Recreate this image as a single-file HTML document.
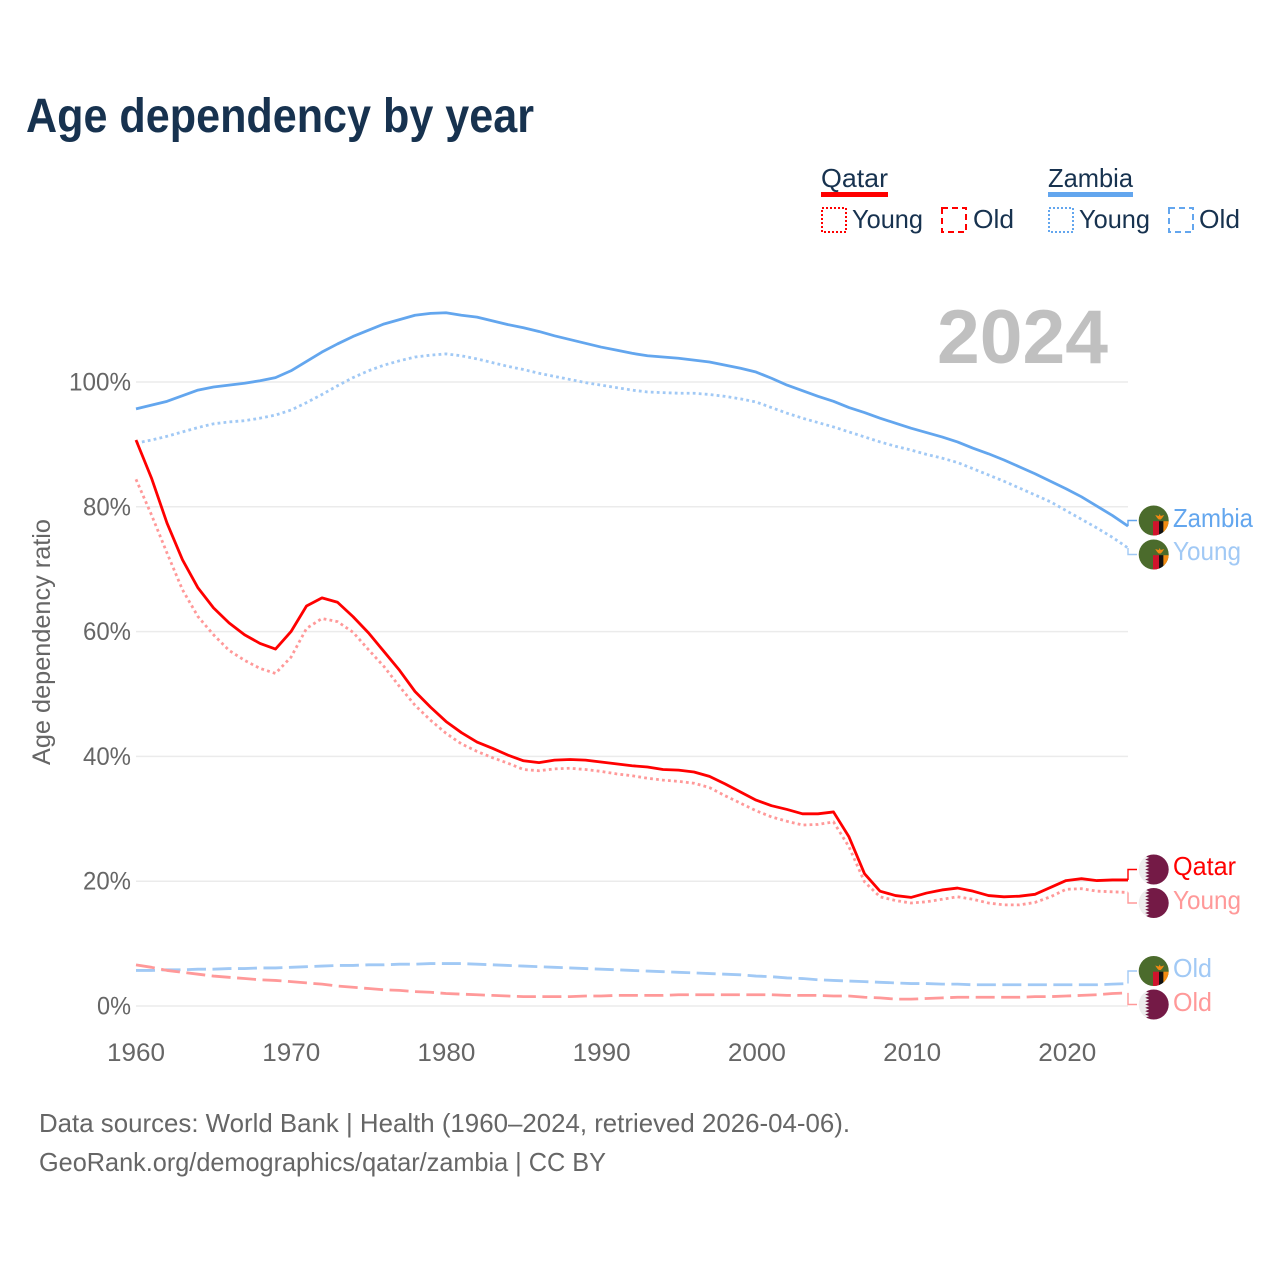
<!DOCTYPE html>
<html lang="en">
<head>
<meta charset="utf-8">
<title>Age dependency by year</title>
<style>
html,body{margin:0;padding:0;background:#fff;}
svg{display:block;font-family:"Liberation Sans",sans-serif;}
</style>
</head>
<body>
<svg id="chart" xmlns="http://www.w3.org/2000/svg" width="1280" height="1280" viewBox="0 0 1280 1280">
  <defs>
    <clipPath id="flag-clip"><circle cx="0" cy="0" r="15"/></clipPath>
    <g id="flag-zambia" clip-path="url(#flag-clip)">
      <rect x="-16" y="-16" width="32" height="32" fill="#4b6b2c"/>
      <rect x="-0.7" y="0.7" width="6" height="16" fill="#d0142c"/>
      <rect x="5.3" y="0.7" width="4.4" height="16" fill="#111"/>
      <rect x="9.7" y="0.7" width="6" height="16" fill="#f28a12"/>
      <polygon points="1.5,-5.5 5,-4.5 6,-6.5 7,-4.5 10.5,-5.5 8.5,-2.5 7,-1 5,-1 3.5,-2.5" fill="#f28a12"/>
    </g>
    <g id="flag-qatar" clip-path="url(#flag-clip)">
      <rect x="-16" y="-16" width="32" height="32" fill="#eeeeee"/>
      <polygon fill="#741a46" points="16,-16 -4.5,-16 -4.5,-15 -8.5,-13.33 -4.5,-11.67 -8.5,-10 -4.5,-8.33 -8.5,-6.67 -4.5,-5 -8.5,-3.33 -4.5,-1.67 -8.5,0 -4.5,1.67 -8.5,3.33 -4.5,5 -8.5,6.67 -4.5,8.33 -8.5,10 -4.5,11.67 -8.5,13.33 -4.5,15 -4.5,16 16,16"/>
    </g>
  </defs>

  <text x="26" y="132" font-size="48" font-weight="700" fill="#17324f" textLength="508" lengthAdjust="spacingAndGlyphs">Age dependency by year</text>

  <g font-size="26" fill="#17324f">
    <text x="821" y="187" textLength="67" lengthAdjust="spacingAndGlyphs">Qatar</text>
    <rect x="821" y="192" width="67" height="5" fill="#ff0000"/>
    <rect x="822" y="208" width="24" height="24" fill="none" stroke="#ff0000" stroke-width="2" stroke-dasharray="2 2"/>
    <text x="852" y="228" textLength="71" lengthAdjust="spacingAndGlyphs">Young</text>
    <rect x="942" y="208" width="24" height="24" fill="none" stroke="#ff0000" stroke-width="2" stroke-dasharray="6 4"/>
    <text x="973" y="228" textLength="41" lengthAdjust="spacingAndGlyphs">Old</text>

    <text x="1048" y="187" textLength="85" lengthAdjust="spacingAndGlyphs">Zambia</text>
    <rect x="1048" y="192" width="85" height="5" fill="#63a6ee"/>
    <rect x="1049" y="208" width="24" height="24" fill="none" stroke="#63a6ee" stroke-width="2" stroke-dasharray="2 2"/>
    <text x="1079" y="228" textLength="71" lengthAdjust="spacingAndGlyphs">Young</text>
    <rect x="1169" y="208" width="24" height="24" fill="none" stroke="#63a6ee" stroke-width="2" stroke-dasharray="6 4"/>
    <text x="1199" y="228" textLength="41" lengthAdjust="spacingAndGlyphs">Old</text>
  </g>

  <g id="grid"></g>
  <text x="937" y="363" font-size="76" font-weight="700" fill="#c0c0c0" textLength="171" lengthAdjust="spacingAndGlyphs">2024</text>
  <text transform="translate(50,765) rotate(-90)" font-size="25" fill="#666666" textLength="246" lengthAdjust="spacingAndGlyphs">Age dependency ratio</text>
  <g id="yticks"></g>
  <g id="xticks"></g>
  <g id="series"></g>
  <g id="endlabels"></g>

  <g font-size="26" fill="#666666">
    <text x="39" y="1132" textLength="811" lengthAdjust="spacingAndGlyphs">Data sources: World Bank | Health (1960–2024, retrieved 2026-04-06).</text>
    <text x="39" y="1171" textLength="567" lengthAdjust="spacingAndGlyphs">GeoRank.org/demographics/qatar/zambia | CC BY</text>
  </g>
</svg>

<script>
const startYear = 1960;
const xTickYears = [1960, 1970, 1980, 1990, 2000, 2010, 2020];
const yTickValues = [0, 20, 40, 60, 80, 100];
const yTickLabels = ["0%", "20%", "40%", "60%", "80%", "100%"];

const qatarTotal = [
  90.7,84.6,77.4,71.5,67.0,63.8,61.4,59.5,58.1,57.2,
  60.0,64.1,65.4,64.7,62.4,59.8,56.8,53.8,50.4,47.9,
  45.6,43.8,42.3,41.3,40.2,39.3,39.0,39.4,39.5,39.4,
  39.1,38.8,38.5,38.3,37.9,37.8,37.5,36.8,35.6,34.3,
  33.0,32.1,31.5,30.8,30.8,31.1,27.1,21.2,18.4,17.7,
  17.4,18.1,18.6,18.9,18.4,17.7,17.5,17.6,17.9,19.0,
  20.1,20.4,20.1,20.2,20.2
];
const qatarYoung = [
  84.4,78.7,72.6,66.7,62.4,59.5,57.0,55.4,54.1,53.3,
  55.9,60.5,62.1,61.6,59.9,57.1,54.4,51.2,48.2,45.8,
  43.7,42.0,40.8,39.8,38.9,37.9,37.7,38.0,38.1,37.9,
  37.6,37.2,36.9,36.5,36.2,36.0,35.7,35.0,33.7,32.5,
  31.3,30.3,29.6,29.0,29.1,29.5,25.5,19.9,17.5,16.9,
  16.5,16.7,17.1,17.5,17.1,16.5,16.2,16.2,16.6,17.5,
  18.7,18.8,18.4,18.3,18.2
];
const qatarOld = [
  6.6,6.2,5.7,5.4,5.1,4.8,4.6,4.4,4.2,4.1,
  3.9,3.7,3.5,3.2,3.0,2.8,2.6,2.5,2.3,2.2,
  2.0,1.9,1.8,1.7,1.6,1.5,1.5,1.5,1.5,1.6,
  1.6,1.7,1.7,1.7,1.7,1.8,1.8,1.8,1.8,1.8,
  1.8,1.8,1.7,1.7,1.7,1.6,1.6,1.4,1.3,1.1,
  1.1,1.2,1.3,1.4,1.4,1.4,1.4,1.4,1.5,1.5,
  1.6,1.7,1.8,2.0,2.1
];
const zambiaTotal = [
  95.7,96.3,96.9,97.8,98.7,99.2,99.5,99.8,100.2,100.7,
  101.8,103.3,104.8,106.1,107.3,108.3,109.3,110.0,110.7,111.0,
  111.1,110.7,110.4,109.8,109.2,108.7,108.1,107.4,106.8,106.2,
  105.6,105.1,104.6,104.2,104.0,103.8,103.5,103.2,102.7,102.2,
  101.6,100.6,99.5,98.6,97.7,96.9,95.9,95.1,94.2,93.4,
  92.6,91.9,91.2,90.4,89.4,88.5,87.5,86.4,85.3,84.1,
  82.9,81.6,80.1,78.6,76.9
];
const zambiaYoung = [
  90.2,90.7,91.3,92.0,92.7,93.3,93.6,93.8,94.2,94.7,
  95.5,96.7,98.0,99.4,100.7,101.8,102.7,103.4,104.0,104.3,
  104.5,104.2,103.7,103.1,102.5,102.0,101.4,100.9,100.4,99.9,
  99.5,99.1,98.7,98.4,98.3,98.2,98.2,98.0,97.7,97.3,
  96.8,95.9,95.0,94.2,93.5,92.8,92.0,91.2,90.4,89.7,
  89.1,88.4,87.8,87.1,86.1,85.1,84.1,83.0,81.9,80.8,
  79.4,78.0,76.6,75.1,73.4
];
const zambiaOld = [
  5.7,5.7,5.8,5.8,5.9,5.9,6.0,6.0,6.1,6.1,
  6.2,6.3,6.4,6.5,6.5,6.6,6.6,6.7,6.7,6.8,
  6.8,6.8,6.7,6.6,6.5,6.4,6.3,6.2,6.1,6.0,
  5.9,5.8,5.7,5.6,5.5,5.4,5.3,5.2,5.1,5.0,
  4.8,4.7,4.5,4.4,4.2,4.1,4.0,3.9,3.8,3.7,
  3.6,3.6,3.5,3.5,3.4,3.4,3.4,3.4,3.4,3.4,
  3.4,3.4,3.4,3.5,3.6
];

const NS = "http://www.w3.org/2000/svg";
const xScale = function (year) { return 136 + (year - 1960) * 15.5; };
const yScale = function (v) { return 1006 - v * 6.24; };
const tickWidths = { "0%": 34, "20%": 48, "40%": 48, "60%": 48, "80%": 48, "100%": 62 };

function make(tag, parent, props, txt) {
  const el = document.createElementNS(NS, tag);
  for (const k in props) el.setAttribute(k, props[k]);
  if (txt !== undefined) el.textContent = txt;
  parent.appendChild(el);
  return el;
}

const grid = document.getElementById("grid");
const yt = document.getElementById("yticks");
yTickValues.forEach(function (v, i) {
  const line = make("line", grid, { x1: 136, x2: 1128, y1: yScale(v), y2: yScale(v), stroke: "#ebebeb", "stroke-width": 1.5 });
  
  
  const label = make("text", yt, { x: 131, y: yScale(v) + 8.5, "text-anchor": "end", "font-size": 25, fill: "#666666", textLength: tickWidths[yTickLabels[i]], lengthAdjust: "spacingAndGlyphs" }, yTickLabels[i]);
  
  
});

const xt = document.getElementById("xticks");
xTickYears.forEach(function (year) {
  const label = make("text", xt, { x: xScale(year) + (year - 1960) * 0.022, y: 1061, "text-anchor": "middle", "font-size": 25, fill: "#666666", textLength: 58, lengthAdjust: "spacingAndGlyphs" }, String(year));
  
  
});

const seriesGroup = document.getElementById("series");
function pathFor(values) {
  return values.map(function (v, i) {
    return (i ? "L" : "M") + xScale(startYear + i).toFixed(2) + " " + yScale(v).toFixed(2);
  }).join("");
}
function drawLine(values, color, width, dash) {
  const p = make("path", seriesGroup, { d: pathFor(values), fill: "none", stroke: color, "stroke-width": width, "stroke-linejoin": "round" });
  if (dash) p.setAttribute("stroke-dasharray", dash);
  return p;
}

const blue = "#63a6ee", lightBlue = "#a1c9f5", red = "#ff0000", pink = "#ff9999";

const zoldLine = drawLine(zambiaOld, lightBlue, 2.8, "19 6.5");


const zyoungLine = drawLine(zambiaYoung, lightBlue, 2.8, "2.8 3.2");


const ztotalLine = drawLine(zambiaTotal, blue, 2.8);


const qoldLine = drawLine(qatarOld, pink, 2.8, "19 6.5");


const qyoungLine = drawLine(qatarYoung, pink, 2.8, "2.8 3.2");


const qtotalLine = drawLine(qatarTotal, red, 2.8);



const endGroup = document.getElementById("endlabels");
function endLabel(values, flag, text, width, color, connColor, cy, baseline) {
  const last = values[values.length - 1];
  const g = make("g", endGroup, {});
  make("path", g, { d: "M1128 " + yScale(last).toFixed(2) + "V" + cy + "H1137", fill: "none", stroke: connColor, "stroke-width": 1.4 });
  make("use", g, { href: "#flag-" + flag, transform: "translate(1153.7," + cy + ")" });
  make("text", g, { x: 1173, y: baseline, "font-size": 26, fill: color, textLength: width, lengthAdjust: "spacingAndGlyphs" }, text);
  return g;
}
const labelZambia = endLabel(zambiaTotal, "zambia", "Zambia", 80, blue, blue, 520.5, 527);


const labelZYoung = endLabel(zambiaYoung, "zambia", "Young", 68, lightBlue, lightBlue, 554.5, 560);


const labelQatar = endLabel(qatarTotal, "qatar", "Qatar", 63, red, red, 869.5, 875);


const labelQYoung = endLabel(qatarYoung, "qatar", "Young", 68, pink, pink, 903, 909);


const labelZOld = endLabel(zambiaOld, "zambia", "Old", 39, lightBlue, lightBlue, 971, 977);


const labelQOld = endLabel(qatarOld, "qatar", "Old", 39, pink, pink, 1004.5, 1011);


</script>
</body>
</html>
